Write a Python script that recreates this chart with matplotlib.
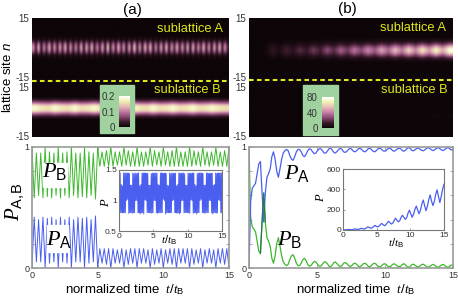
import numpy as np
import matplotlib as mpl
import matplotlib.pyplot as plt
from matplotlib.colors import LinearSegmentedColormap
from matplotlib.lines import Line2D
from matplotlib.patches import Rectangle

mpl.rcParams['font.family'] = ['Liberation Sans', 'DejaVu Sans']
mpl.rcParams['axes.unicode_minus'] = False
mpl.rcParams['mathtext.fontset'] = 'custom'
mpl.rcParams['mathtext.rm'] = 'Liberation Sans'
mpl.rcParams['mathtext.it'] = 'Liberation Serif:italic'
mpl.rcParams['mathtext.bf'] = 'Liberation Sans:italic'

W, H = 458, 300
GRAY = '#9a9a9a'
GREEN = '#3db82c'
BLUE = '#4a5ff0'
YELLOW = '#dfe81c'
BOX = '#9fd29f'

# site profiles, rows run from n=15 down to n=-17
rows_a = [0, 0, 0, 0, 0, 0, 0, 0, 0, .03, .08, .18, .38, .6, .75, .8, .75, .6, .38, .18, .08, .03,
          0, 0, 0, 0, 0, 0, 0, 0, 0, 0, 0]
time_a = [.13, .05, .15, .04, .12, .06, .15, .05, .13, .05, .14, .06, .15, .04, .13, .05, .12, .05,
          .15, .04, .14, .06, .15, .05, .12, .05, .14, .04, .16, .05, .13, .05, .15, .06, .13, .04,
          .14, .05, .16, .05, .13, .05, .15, .06, .15, .04, .12, .05, .14, .05, .15, .04, .13, .06,
          .15, .05, .13, .05, .14, .04, .15, .05, .12, .06, .15, .05, .13, .04, .14, .05, .15, .05,
          .13, .05]
# rows run from n=18 down to n=-15
rows_b = [0, 0, 0, 0, 0, 0, 0, 0, 0, 0, .06, .2, .35, .55, .8, .95, 1, .95, .8, .55, .35, .2, .06,
          0, 0, 0, 0, 0, 0, 0, 0, 0, 0, 0]
time_b = [.185, .165, .16, .185, .165, .16, .185, .16, .165, .185, .16, .165, .185, .16, .165, .185, .165, .16,
          .185, .16, .165, .185, .16, .165, .185, .16, .165, .185, .165, .16]

rows_c = [0, 0, 0, 0, 0, 0, 0, 0, 0, 0, .02, .06, .14, .28, .48, .72, .92, 1, .92, .72, .48, .26, .12, .04,
          0, 0, 0, 0, 0, 0, 0, 0, 0]
time_c = [0, 0, 2, 10, 5, 14, 8, 18, 11, 22, 14, 27, 18, 32, 22, 37, 26, 42, 30, 48, 34, 54, 38, 60,
          42, 65, 46, 70, 50, 76]
rows_d = [0, 0, 0, 0, 0, 0, 0, 0, 0, 0, 0, 0, 0, 0, 0, 0, 0, 0, 0, .3, .6, 1, .6, .3, 0, 0, 0, 0, 0, 0, 0, 0, 0, 0]
time_d = [0, 0, 0, 0, 0, 0, 0, 0, 0, 0, 0, 0, 0, 0, 0, 0, 0, 0, 0, 0, 0, 0, 0, 0, 1, 1, 1, 2, 1, 2]

pb_a = [1, .58, .95, .60, .95, .58,
        1, .59, .96, .58, .95, .60,
        1, .58, .95, .60, .96, .58,
        1, .60, .95, .58, .95, .59,
        1, .58, .96, .60, .95, .57,
        1, .84, .96, .84, .97, .84,
        1, .84, .96, .85, .96, .84,
        1, .85, .97, .84, .96, .84,
        1, .84, .96, .84, .96, .85,
        1, .84, .97, .85, .96, .84,
        1, .85, .96, .84, .97, .84,
        1, .84, .96, .84, .96, .84,
        1, .84, .97, .85, .96, .84,
        1, .85, .96, .84, .96, .85,
        1, .84, .96, .84, .97, .84, 1]
pa_a = [0, .42, .05, .40, .05, .42,
        0, .41, .04, .42, .05, .40,
        0, .42, .05, .40, .04, .42,
        0, .40, .05, .42, .05, .41,
        0, .42, .04, .40, .05, .43,
        0, .16, .04, .16, .03, .16,
        0, .16, .04, .15, .04, .16,
        0, .15, .03, .16, .04, .16,
        0, .16, .04, .16, .04, .15,
        0, .16, .03, .15, .04, .16,
        0, .15, .04, .16, .03, .16,
        0, .16, .04, .16, .04, .16,
        0, .16, .03, .15, .04, .16,
        0, .15, .04, .16, .04, .15,
        0, .16, .04, .16, .03, .16, 0]
power_a = [1.45, .8, 1.45, .8, 1.26, .8, 1.24, .8, 1.45, .8, 1.45, .8, 1.45, 1.0, 1.45, 1.02,
           1.45, .79, 1.44, .8, 1.25, .8, 1.25, .79, 1.45, .8, 1.44, .8, 1.45, 1.0, 1.44, 1.0,
           1.45, .8, 1.45, .8, 1.24, .78, 1.26, .8, 1.45, .8, 1.45, .78, 1.45, 1.01, 1.45, 1.0,
           1.44, .8, 1.45, .8, 1.25, .8, 1.25, .8, 1.44, .79, 1.45, .8, 1.44, 1.0, 1.45, 1.0,
           1.45, .8, 1.45, .79, 1.26, .8, 1.25, .8, 1.45, .8, 1.45, .8, 1.45, 1.02, 1.44, 1.0,
           1.45, .78, 1.44, .8, 1.25, .8, 1.24, .8, 1.45, .8, 1.44, .8, 1.45, 1.0, 1.45, 1.01,
           1.44, .8, 1.45, .8, 1.24, .79, 1.26, .8, 1.45, .78, 1.45, .8, 1.44, 1.0, 1.45, 1.0,
           1.45, .8, 1.44, .8, 1.25, .8, 1.25, .8, 1.45, .8, 1.44, .79, 1.45, 1.01, 1.44, 1.0,
           1.45, .79, 1.45, .8, 1.26, .8, 1.24, .78, 1.44, .8, 1.45, .8, 1.45, 1.0, 1.45, 1.02,
           1.45, .8, 1.44, .8, 1.25, .79, 1.25, .8, 1.45, .8, 1.45, .8, 1.44, 1.0, 1.45, 1.0,
           1.44, .8, 1.45, .78, 1.25, .8, 1.26, .8, 1.45, .79, 1.44, .8, 1.45, 1.01, 1.45, 1.0,
           1.45, .8, 1.45, .8]

pa_b = [0, .55, .66, .68, .70, .78, .86, .88, .62, .38, .62, .75, .78, .82, .92, .96, .90, .80, .75, .82,
        .90, .95, .97, .98, .97, .93, .90, .89, .92, .96, .98, .98, .96, .93, .92, .94, .97, .985, .98, .96,
        .945, .95, .97, .985, .985, .97, .95, .95, .965, .985, .99, .975, .955, .95, .965, .98, .99, .98, .96, .955,
        .965, .98, .99, .98, .965, .96, .97, .985, .99, .98, .965, .96, .97, .985, .99, .98, .965, .96, .97, .985,
        .99, .985, .97, .965, .97, .985, .99, .985, .97, .965, .975, .985, .99, .985, .97, .965, .975, .99, .995, .985,
        .97, .97, .98, .99, .99, .98, .97, .97, .98, .99, .995, .985, .975, .97, .98, .99, .995, .985, .975, .97,
        .98, .99, .995, .985, .975, .98]
pb_b = [1, .42, .34, .32, .30, .22, .14, .12, .38, .62, .38, .25, .22, .18, .08, .04, .10, .20, .25, .18,
        .10, .05, .03, .02, .03, .07, .10, .11, .08, .04, .02, .02, .04, .07, .08, .06, .03, .015, .02, .04,
        .055, .05, .03, .015, .015, .03, .05, .05, .035, .015, .01, .025, .045, .05, .035, .02, .01, .02, .04, .045,
        .035, .02, .01, .02, .035, .04, .03, .015, .01, .02, .035, .04, .03, .015, .01, .02, .035, .04, .03, .015,
        .01, .015, .03, .035, .03, .015, .01, .015, .03, .035, .025, .015, .01, .015, .03, .035, .025, .01, .005, .015,
        .03, .03, .02, .01, .01, .02, .03, .03, .02, .01, .005, .015, .025, .03, .02, .01, .005, .015, .025, .03,
        .02, .01, .005, .015, .025, .02]
power_b = [0, 1, 2, 3, 5, 4, 3, 4, 8, 10, 7, 6, 10, 16, 14, 10, 12, 22, 30, 24, 18, 20, 32, 45, 36,
           30, 38, 52, 65, 52, 42, 52, 72, 85, 70, 58, 68, 95, 115, 95, 80, 92, 125, 145, 125, 105, 120, 165,
           195, 160, 125, 155, 205, 235, 195, 160, 195, 255, 295, 240, 190, 235, 300, 345, 285, 240, 280, 350,
           395, 330, 270, 330, 400, 450]

ticks_t = [0, 5, 10, 15]
ticks_p = [0, .2, .4, .6, .8, 1]

cmap = LinearSegmentedColormap.from_list('heat', ['#0d0508', '#3a1a2c', '#8a4a72', '#c47ba6', '#e6b9b8',
                                                  '#f2f0b0', '#ffffff'])


def px_ax(x0, y0, x1, y1):
    return fig.add_axes([x0 / W, 1 - y1 / H, (x1 - x0) / W, (y1 - y0) / H])


def px_text(x, y, s, **kw):
    kw.setdefault('ha', 'center')
    kw.setdefault('va', 'center')
    fig.text(x / W, 1 - y / H, s, **kw)


def heat(box, rows, times, ylim, yticks, vmax):
    ax = px_ax(*box)
    ax.imshow(np.outer(rows, times), cmap=cmap, vmin=0, vmax=vmax, aspect='auto',
              extent=[0, 15, ylim[0], ylim[1]], interpolation='bilinear')
    ax.set_xticks([])
    ax.set_yticks(yticks)
    ax.tick_params(length=0, pad=2, labelsize=7, labelcolor='#333333')
    for s in ax.spines.values():
        s.set_visible(False)
    return ax


def bar_box(box, gradient, vmax, ticks, labels):
    fig.add_artist(Rectangle((box[0] / W, 1 - box[3] / H), (box[2] - box[0]) / W, (box[3] - box[1]) / H,
                             transform=fig.transFigure, color=BOX, zorder=5))
    cax = px_ax(*gradient)
    cax.set_zorder(6)
    sm = plt.cm.ScalarMappable(cmap=cmap, norm=plt.Normalize(0, vmax))
    cb = fig.colorbar(sm, cax=cax, ticks=ticks)
    cb.ax.yaxis.set_ticks_position('left')
    cb.ax.set_yticklabels(labels)
    cb.ax.tick_params(length=0, pad=3, labelsize=7, labelcolor='#333333')
    cb.outline.set_visible(False)


def line_ax(box):
    ax = px_ax(*box)
    ax.set_xlim(0, 15)
    ax.set_ylim(0, 1)
    ax.set_xticks(ticks_t)
    ax.set_yticks(ticks_p)
    ax.set_yticklabels(['0', '', '', '', '', '1'])
    ax.tick_params(direction='in', length=2, width=.6, color=GRAY, top=True, right=True, pad=2,
                   labelsize=6.5, labelcolor='#333333')
    for s in ax.spines.values():
        s.set_color(GRAY)
        s.set_linewidth(1.2)
    return ax


def inset(box, t, p, ylim, yticks, ylabels, lw):
    ax = px_ax(*box)
    ax.set_zorder(4)
    ax.plot(t, p, color=BLUE, lw=lw)
    ax.set_xlim(0, 15)
    ax.set_ylim(*ylim)
    ax.set_xticks(ticks_t)
    ax.set_yticks(yticks)
    ax.set_yticklabels(ylabels)
    ax.tick_params(direction='in', length=1.5, width=.5, color='#777777', pad=1.5, labelsize=6,
                   labelcolor='#333333')
    for s in ax.spines.values():
        s.set_color('#777777')
        s.set_linewidth(.8)
    return ax


fig = plt.figure(figsize=(W / 100, H / 100), dpi=100)

heat((32, 18, 229, 81), rows_a, time_a, (-17, 15), [-15, 15], .2)
heat((32, 81, 229, 137), rows_b, time_b, (-15.5, 18.5), [-15, 15], .2)
heat((249, 18, 453, 79), rows_c, time_c, (-16, 15), [-15, 15], 80)
heat((249, 79, 453, 137), rows_d, time_d, (-15.5, 20), [-15, 15], 80)

fig.add_artist(Line2D([32 / W, 229 / W], [1 - 81 / H] * 2, color=YELLOW, lw=1.5, ls=(0, (2.2, 1.6)), zorder=5))
fig.add_artist(Line2D([249 / W, 453 / W], [1 - 79.5 / H] * 2, color=YELLOW, lw=1.5, ls=(0, (2.2, 1.6)), zorder=5))

bar_box((100, 85, 134, 133), (119, 96, 130, 127), .2, [0, .1, .2], ['0', '0.1', '0.2'])
bar_box((303, 85, 338, 135), (322, 97, 334, 128), 80, [0, 40, 80], ['0', '40', '80'])

for x, y, s in [(190, 29, 'sublattice A'), (187, 90, 'sublattice B'),
                (413, 28, 'sublattice A'), (414, 90, 'sublattice B')]:
    px_text(x, y, s, color=YELLOW, fontsize=9.3)

px_text(132, 10, '(a)', fontsize=11)
px_text(347, 9, '(b)', fontsize=11)
px_text(8, 77, r'lattice site $\mathbf{n}$', rotation=90, fontsize=9.5)

# bottom left
ax_a = line_ax((32, 147, 229, 268))
ax_a.plot(np.linspace(0, 15, len(pb_a)), pb_a, color=GREEN, lw=.7)
ax_a.plot(np.linspace(0, 15, len(pa_a)), pa_a, color=BLUE, lw=.7)
for x0, y0, x1, y1 in [(43, 163, 67, 187), (47, 225, 68, 252)]:
    ax_a.add_patch(Rectangle((x0 / W, 1 - y1 / H), (x1 - x0) / W, (y1 - y0) / H, transform=fig.transFigure,
                             color='white', zorder=3))
inset((119, 170, 222, 231), np.linspace(0, 15, len(power_a)), power_a, (.5, 1.5), [.5, 1, 1.5],
      ['0.5', '1', '1.5'], .7)

# bottom right
ax_b = line_ax((249, 147, 453, 268))
ax_b.plot(np.linspace(0, 15, len(pb_b)), pb_b, color=GREEN, lw=.9)
ax_b.plot(np.linspace(0, 15, len(pa_b)), pa_b, color=BLUE, lw=.9)
ax_b.plot(np.linspace(0, 15, len(pb_b))[7:11], pb_b[7:11], color='#2a7a50', lw=.9)
inset((343, 169, 444, 230), np.linspace(0, 15, len(power_b)), power_b, (0, 600), [0, 200, 400, 600],
      ['0', '200', '400', '600'], .9)

px_text(55, 172, r'$P_{\mathrm{B}}$', fontsize=16, zorder=6)
px_text(59, 240, r'$P_{\mathrm{A}}$', fontsize=16, zorder=6)
px_text(297, 173, r'$P_{\mathrm{A}}$', fontsize=16, zorder=6)
px_text(290, 240, r'$P_{\mathrm{B}}$', fontsize=16, zorder=6)
px_text(15, 202, r'$P_{\mathrm{A,\!B}}$', fontsize=15, rotation=90)

px_text(125, 290, r'normalized time  $t/t_{\mathrm{B}}$', fontsize=9.5)
px_text(356, 290, r'normalized time  $t/t_{\mathrm{B}}$', fontsize=9.5)
px_text(106, 202, r'$P$', fontsize=9, rotation=90)
px_text(321, 197, r'$P$', fontsize=9, rotation=90)
px_text(169, 240, r'$t/t_{\mathrm{B}}$', fontsize=8)
px_text(396, 243, r'$t/t_{\mathrm{B}}$', fontsize=8)

fig.savefig('out.png', dpi=100)
